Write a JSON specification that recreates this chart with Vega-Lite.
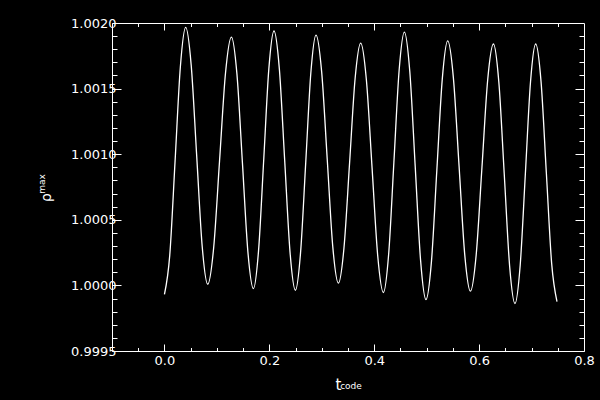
{
  "$schema": "https://vega.github.io/schema/vega-lite/v6.json",
  "width": 472,
  "height": 328,
  "autosize": {"type": "none"},
  "padding": {"left": 112, "top": 23, "right": 16, "bottom": 49},
  "background": "black",
  "config": {
    "view": {"stroke": null},
    "axis": {
      "domainColor": "white",
      "domainWidth": 1,
      "tickColor": "white",
      "tickWidth": 1,
      "labelColor": "white",
      "labelFont": "DejaVu Sans",
      "labelFontSize": 13,
      "labelFontWeight": "normal",
      "titleColor": "white",
      "titleFont": "DejaVu Sans",
      "titleFontWeight": "normal",
      "grid": false
    }
  },
  "data": {
    "values": [
      {"t": 0.0000, "rho": 0.999931},
      {"t": 0.0101, "rho": 1.000229},
      {"t": 0.0203, "rho": 1.000949},
      {"t": 0.0304, "rho": 1.001668},
      {"t": 0.0405, "rho": 1.001966},
      {"t": 0.0510, "rho": 1.001679},
      {"t": 0.0615, "rho": 1.000987},
      {"t": 0.0720, "rho": 1.000296},
      {"t": 0.0825, "rho": 1.000009},
      {"t": 0.0938, "rho": 1.000285},
      {"t": 0.1051, "rho": 1.000951},
      {"t": 0.1164, "rho": 1.001617},
      {"t": 0.1277, "rho": 1.001893},
      {"t": 0.1382, "rho": 1.001612},
      {"t": 0.1487, "rho": 1.000934},
      {"t": 0.1591, "rho": 1.000257},
      {"t": 0.1696, "rho": 0.999976},
      {"t": 0.1794, "rho": 1.000263},
      {"t": 0.1893, "rho": 1.000958},
      {"t": 0.1991, "rho": 1.001652},
      {"t": 0.2089, "rho": 1.001939},
      {"t": 0.2191, "rho": 1.001650},
      {"t": 0.2293, "rho": 1.000951},
      {"t": 0.2395, "rho": 1.000252},
      {"t": 0.2497, "rho": 0.999963},
      {"t": 0.2595, "rho": 1.000248},
      {"t": 0.2694, "rho": 1.000936},
      {"t": 0.2792, "rho": 1.001623},
      {"t": 0.2890, "rho": 1.001908},
      {"t": 0.2997, "rho": 1.001631},
      {"t": 0.3104, "rho": 1.000962},
      {"t": 0.3210, "rho": 1.000294},
      {"t": 0.3317, "rho": 1.000017},
      {"t": 0.3423, "rho": 1.000285},
      {"t": 0.3530, "rho": 1.000932},
      {"t": 0.3636, "rho": 1.001579},
      {"t": 0.3742, "rho": 1.001847},
      {"t": 0.3850, "rho": 1.001569},
      {"t": 0.3959, "rho": 1.000896},
      {"t": 0.4067, "rho": 1.000224},
      {"t": 0.4175, "rho": 0.999946},
      {"t": 0.4275, "rho": 1.000237},
      {"t": 0.4375, "rho": 1.000939},
      {"t": 0.4475, "rho": 1.001640},
      {"t": 0.4575, "rho": 1.001931},
      {"t": 0.4678, "rho": 1.001632},
      {"t": 0.4781, "rho": 1.000911},
      {"t": 0.4884, "rho": 1.000191},
      {"t": 0.4987, "rho": 0.999892},
      {"t": 0.5091, "rho": 1.000181},
      {"t": 0.5194, "rho": 1.000878},
      {"t": 0.5298, "rho": 1.001574},
      {"t": 0.5401, "rho": 1.001863},
      {"t": 0.5509, "rho": 1.001584},
      {"t": 0.5618, "rho": 1.000909},
      {"t": 0.5726, "rho": 1.000235},
      {"t": 0.5834, "rho": 0.999956},
      {"t": 0.5944, "rho": 1.000232},
      {"t": 0.6054, "rho": 1.000898},
      {"t": 0.6163, "rho": 1.001564},
      {"t": 0.6273, "rho": 1.001840},
      {"t": 0.6376, "rho": 1.001550},
      {"t": 0.6479, "rho": 1.000851},
      {"t": 0.6581, "rho": 1.000152},
      {"t": 0.6684, "rho": 0.999862},
      {"t": 0.6783, "rho": 1.000152},
      {"t": 0.6882, "rho": 1.000851},
      {"t": 0.6980, "rho": 1.001550},
      {"t": 0.7079, "rho": 1.001840},
      {"t": 0.7181, "rho": 1.001553},
      {"t": 0.7282, "rho": 1.000858},
      {"t": 0.7384, "rho": 1.000164},
      {"t": 0.7485, "rho": 0.999877}
    ]
  },
  "layer": [
    {
      "mark": {"type": "line", "color": "white", "strokeWidth": 1.3, "interpolate": "monotone"},
      "encoding": {
        "x": {
          "field": "t", "type": "quantitative",
          "scale": {"domain": [-0.1, 0.8], "nice": false, "zero": false},
          "axis": {
            "orient": "bottom",
            "values": [-0.05, 0, 0.05, 0.1, 0.15, 0.2, 0.25, 0.3, 0.35, 0.4, 0.45, 0.5, 0.55, 0.6, 0.65, 0.7, 0.75, 0.8],
            "labelExpr": "(round(datum.value*20) % 4 == 0) ? format(datum.value, '.1f') : ''",
            "tickSize": {"condition": {"test": "round(datum.value*20) % 4 == 0", "value": -7}, "value": -3.5},
            "labelPadding": 10,
            "labelFlush": false,
            "labelOverlap": false,
            "title": "t",
            "titleFontSize": 15,
            "titleX": 226,
            "titleY": 38,
            "titleAlign": "center",
            "titleBaseline": "alphabetic"
          }
        },
        "y": {
          "field": "rho", "type": "quantitative",
          "scale": {"domain": [0.9995, 1.002], "nice": false, "zero": false},
          "axis": {
            "orient": "left",
            "values": [0.9995, 0.9996, 0.9997, 0.9998, 0.9999, 1.0, 1.0001, 1.0002, 1.0003, 1.0004, 1.0005, 1.0006, 1.0007, 1.0008, 1.0009, 1.001, 1.0011, 1.0012, 1.0013, 1.0014, 1.0015, 1.0016, 1.0017, 1.0018, 1.0019, 1.002],
            "labelExpr": "(round(datum.value*10000) % 5 == 0) ? format(datum.value, '.4f') : ''",
            "tickSize": {"condition": {"test": "round(datum.value*10000) % 5 == 0", "value": -9}, "value": -5},
            "labelPadding": 5,
            "labelFlush": false,
            "labelOverlap": false,
            "title": "ρ",
            "titleFontSize": 14,
            "titleAngle": -90,
            "titleX": -62,
            "titleY": 174,
            "titleAlign": "center",
            "titleBaseline": "alphabetic"
          }
        }
      }
    },
    {
      "mark": {"type": "line", "strokeOpacity": 0, "interpolate": "monotone"},
      "encoding": {
        "x": {
          "field": "t", "type": "quantitative",
          "axis": {
            "orient": "top",
            "values": [-0.05, 0, 0.05, 0.1, 0.15, 0.2, 0.25, 0.3, 0.35, 0.4, 0.45, 0.5, 0.55, 0.6, 0.65, 0.7, 0.75],
            "labels": false,
            "tickSize": {"condition": {"test": "round(datum.value*20) % 4 == 0", "value": -7}, "value": -3.5},
            "title": "code",
            "titleFontSize": 9,
            "titleX": 238.5,
            "titleY": 365.5,
            "titleAlign": "center",
            "titleBaseline": "alphabetic"
          }
        },
        "y": {
          "field": "rho", "type": "quantitative",
          "axis": {
            "orient": "right",
            "values": [0.9996, 0.9997, 0.9998, 0.9999, 1.0, 1.0001, 1.0002, 1.0003, 1.0004, 1.0005, 1.0006, 1.0007, 1.0008, 1.0009, 1.001, 1.0011, 1.0012, 1.0013, 1.0014, 1.0015, 1.0016, 1.0017, 1.0018, 1.0019],
            "labels": false,
            "tickSize": {"condition": {"test": "round(datum.value*10000) % 5 == 0", "value": -9}, "value": -5},
            "title": "max",
            "titleFontSize": 9,
            "titleAngle": -90,
            "titleX": -539.5,
            "titleY": 160.5,
            "titleAlign": "center",
            "titleBaseline": "alphabetic"
          }
        }
      }
    }
  ],
  "resolve": {"axis": {"x": "independent", "y": "independent"}}
}
